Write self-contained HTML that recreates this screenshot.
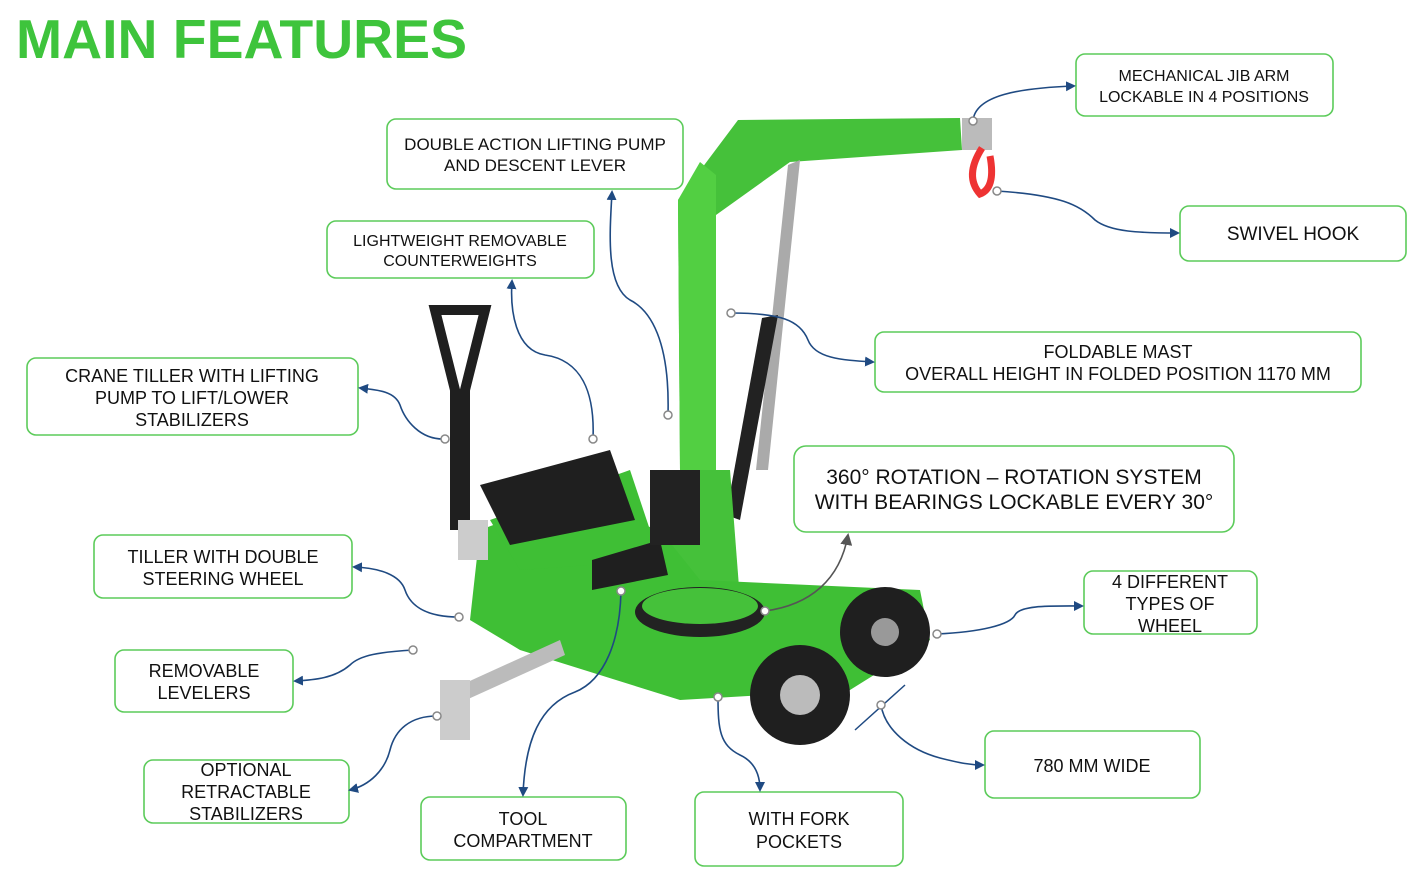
<!DOCTYPE html>
<html><head><meta charset="utf-8"><style>
body{margin:0;background:#fff;}
svg{display:block}
.b{fill:#fff;stroke:#5ccb5a;stroke-width:1.6}
.t{font-family:"Liberation Sans",sans-serif;font-size:17px;fill:#111;text-anchor:middle}
.c{fill:none;stroke:#1f4a82;stroke-width:1.6}
.d{fill:#fff;stroke:#888;stroke-width:1.5}
</style></head><body>
<svg width="1419" height="872" viewBox="0 0 1419 872" xmlns="http://www.w3.org/2000/svg">
<defs><marker id="a" markerWidth="10" markerHeight="10" refX="8" refY="5" orient="auto" markerUnits="userSpaceOnUse"><path d="M0,0 L10,5 L0,10z" fill="#1f4a82"/></marker>
<marker id="g" markerWidth="12" markerHeight="12" refX="10" refY="6" orient="auto" markerUnits="userSpaceOnUse"><path d="M0,0 L12,6 L0,12z" fill="#555"/></marker></defs>
<text x="16" y="58" font-family="Liberation Sans,sans-serif" font-weight="bold" font-size="55" fill="#3ec43c" textLength="451" lengthAdjust="spacingAndGlyphs">MAIN FEATURES</text>

<!-- crane -->
<g>
<polygon points="678,200 738,120 960,118 962,150 790,162 716,215 716,470 680,470" fill="#45c13a"/>
<polygon points="678,200 700,162 716,175 716,470 680,470" fill="#52cf42"/>
<polygon points="788,165 800,160 768,470 756,470" fill="#aaa"/>
<polygon points="762,318 778,315 740,520 726,515" fill="#222"/>
<rect x="962" y="118" width="30" height="32" fill="#bbb"/>
<path d="M982,148 q-18,28 -2,46 q16,-6 10,-38" fill="none" stroke="#e33" stroke-width="7"/>
<polygon points="660,470 730,470 740,600 650,610" fill="#45c13a"/>
<polygon points="480,530 560,500 660,530 700,580 920,590 930,640 850,690 680,700 520,650 470,620" fill="#3fbf35"/>
<polygon points="490,520 630,470 660,560 520,570" fill="#3fbf35"/>
<polygon points="480,485 610,450 635,520 510,545" fill="#1f1f1f"/>
<polygon points="592,560 660,540 668,575 592,590" fill="#1f1f1f"/>
<rect x="650" y="470" width="50" height="75" fill="#222"/>
<ellipse cx="700" cy="612" rx="65" ry="25" fill="#222"/>
<ellipse cx="700" cy="606" rx="58" ry="18" fill="#45c13a"/>
<path d="M440,310 h45 l-20,80 v135 h-10 v-135 l-20,-80z" fill="none" stroke="#1f1f1f" stroke-width="10"/>
<rect x="458" y="520" width="30" height="40" fill="#ccc"/>
<polygon points="450,690 560,640 565,655 455,705" fill="#bbb"/>
<rect x="440" y="680" width="30" height="60" fill="#ccc"/>
<circle cx="800" cy="695" r="50" fill="#1f1f1f"/><circle cx="800" cy="695" r="20" fill="#bbb"/>
<circle cx="885" cy="632" r="45" fill="#1f1f1f"/><circle cx="885" cy="632" r="14" fill="#999"/>
<line x1="855" y1="730" x2="905" y2="685" stroke="#1f4a82" stroke-width="1.5"/>
</g>

<!-- boxes -->
<rect class="b" x="1076" y="54" width="257" height="62" rx="9"/>
<text class="t" x="1204" y="81" style="font-size:16px">MECHANICAL JIB ARM</text><text class="t" x="1204" y="102" style="font-size:16px">LOCKABLE IN 4 POSITIONS</text>
<rect class="b" x="1180" y="206" width="226" height="55" rx="9"/>
<text class="t" x="1293" y="240" style="font-size:19px">SWIVEL HOOK</text>
<rect class="b" x="387" y="119" width="296" height="70" rx="9"/>
<text class="t" x="535" y="150">DOUBLE ACTION LIFTING PUMP</text><text class="t" x="535" y="171">AND DESCENT LEVER</text>
<rect class="b" x="327" y="221" width="267" height="57" rx="9"/>
<text class="t" x="460" y="246" style="font-size:16px">LIGHTWEIGHT REMOVABLE</text><text class="t" x="460" y="266" style="font-size:16px">COUNTERWEIGHTS</text>
<rect class="b" x="27" y="358" width="331" height="77" rx="9"/>
<text class="t" x="192" y="382" style="font-size:18px">CRANE TILLER WITH LIFTING</text><text class="t" x="192" y="404" style="font-size:18px">PUMP TO LIFT/LOWER</text><text class="t" x="192" y="426" style="font-size:18px">STABILIZERS</text>
<rect class="b" x="875" y="332" width="486" height="60" rx="9"/>
<text class="t" x="1118" y="358" style="font-size:18px">FOLDABLE MAST</text><text class="t" x="1118" y="380" style="font-size:18px">OVERALL HEIGHT IN FOLDED POSITION 1170 MM</text>
<rect class="b" x="794" y="446" width="440" height="86" rx="12"/>
<text class="t" x="1014" y="484" style="font-size:21px">360° ROTATION – ROTATION SYSTEM</text><text class="t" x="1014" y="509" style="font-size:21px">WITH BEARINGS LOCKABLE EVERY 30°</text>
<rect class="b" x="94" y="535" width="258" height="63" rx="9"/>
<text class="t" x="223" y="563" style="font-size:18px">TILLER WITH DOUBLE</text><text class="t" x="223" y="585" style="font-size:18px">STEERING WHEEL</text>
<rect class="b" x="1084" y="571" width="173" height="63" rx="9"/>
<text class="t" x="1170" y="588" style="font-size:18px">4 DIFFERENT</text><text class="t" x="1170" y="610" style="font-size:18px">TYPES OF</text><text class="t" x="1170" y="632" style="font-size:18px">WHEEL</text>
<rect class="b" x="115" y="650" width="178" height="62" rx="9"/>
<text class="t" x="204" y="677" style="font-size:18px">REMOVABLE</text><text class="t" x="204" y="699" style="font-size:18px">LEVELERS</text>
<rect class="b" x="144" y="760" width="205" height="63" rx="9"/>
<text class="t" x="246" y="776" style="font-size:18px">OPTIONAL</text><text class="t" x="246" y="798" style="font-size:18px">RETRACTABLE</text><text class="t" x="246" y="820" style="font-size:18px">STABILIZERS</text>
<rect class="b" x="421" y="797" width="205" height="63" rx="9"/>
<text class="t" x="523" y="825" style="font-size:18px">TOOL</text><text class="t" x="523" y="847" style="font-size:18px">COMPARTMENT</text>
<rect class="b" x="695" y="792" width="208" height="74" rx="9"/>
<text class="t" x="799" y="825" style="font-size:18px">WITH FORK</text><text class="t" x="799" y="848" style="font-size:18px">POCKETS</text>
<rect class="b" x="985" y="731" width="215" height="67" rx="9"/>
<text class="t" x="1092" y="772" style="font-size:18px">780 MM WIDE</text>

<!-- connectors -->
<path class="c" marker-end="url(#a)" d="M973,121 C975,95 1020,88 1074,86"/>
<path class="c" marker-end="url(#a)" d="M997,191 C1060,195 1080,205 1095,220 C1110,232 1140,233 1178,233"/>
<path class="c" marker-end="url(#a)" d="M668,415 C670,340 650,310 630,300 C605,285 610,230 612,192"/>
<path class="c" marker-end="url(#a)" d="M593,439 C595,390 580,360 545,355 C515,350 510,310 512,281"/>
<path class="c" marker-end="url(#a)" d="M445,439 C420,440 405,420 400,405 C395,392 380,390 360,388"/>
<path class="c" marker-end="url(#a)" d="M731,313 C780,313 800,320 808,340 C815,358 840,360 873,362"/>
<path fill="none" stroke="#555" stroke-width="1.6" marker-end="url(#g)" d="M765,611 C810,605 840,580 848,535"/>
<path class="c" marker-end="url(#a)" d="M459,617 C425,617 410,605 405,590 C400,575 380,568 354,567"/>
<path class="c" marker-end="url(#a)" d="M937,634 C980,632 1010,625 1015,615 C1020,605 1050,606 1082,606"/>
<path class="c" marker-end="url(#a)" d="M413,650 C380,652 360,655 350,665 C335,678 315,680 295,681"/>
<path class="c" marker-end="url(#a)" d="M437,716 C410,716 395,730 390,750 C385,770 370,785 350,790"/>
<path class="c" marker-end="url(#a)" d="M621,591 C620,640 605,680 575,692 C540,705 525,740 523,795"/>
<path class="c" marker-end="url(#a)" d="M718,697 C718,730 720,745 740,755 C755,762 760,775 760,790"/>
<path class="c" marker-end="url(#a)" d="M881,705 C885,730 910,750 940,758 C960,763 970,765 983,765"/>

<!-- dots -->
<g>
<circle class="d" cx="973" cy="121" r="4"/><circle class="d" cx="997" cy="191" r="4"/>
<circle class="d" cx="668" cy="415" r="4"/><circle class="d" cx="593" cy="439" r="4"/>
<circle class="d" cx="445" cy="439" r="4"/><circle class="d" cx="731" cy="313" r="4"/>
<circle class="d" cx="765" cy="611" r="4"/><circle class="d" cx="459" cy="617" r="4"/>
<circle class="d" cx="937" cy="634" r="4"/><circle class="d" cx="413" cy="650" r="4"/>
<circle class="d" cx="437" cy="716" r="4"/><circle class="d" cx="621" cy="591" r="4"/>
<circle class="d" cx="718" cy="697" r="4"/><circle class="d" cx="881" cy="705" r="4"/>
</g>
</svg>
</body></html>
